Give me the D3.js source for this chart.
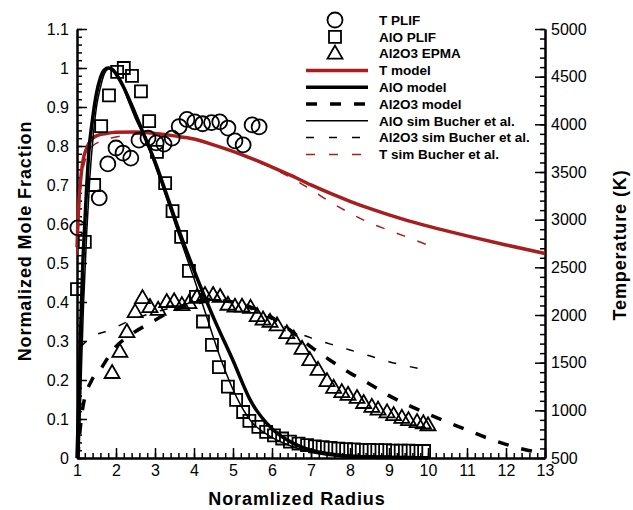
<!DOCTYPE html>
<html>
<head>
<meta charset="utf-8">
<script src="https://cdn.jsdelivr.net/npm/d3@7/dist/d3.min.js"></script>
<style>
  html, body { margin: 0; padding: 0; background: #fff; }
  svg { display: block; font-family: "Liberation Sans", Arial, Helvetica, sans-serif; }
  .tick text { font-size: 16px; fill: #000; }
</style>
</head>
<body>
<svg id="chart" width="633" height="510"></svg>
<script>
// ---- data ----
// T PLIF measurements: radius, temperature (K)
const tPlifR = [1.02, 1.57, 1.79, 2.0, 2.18, 2.38, 2.59, 2.82, 3.03, 3.23, 3.44, 3.62, 3.82, 4.02, 4.22, 4.45, 4.66, 4.87, 5.05, 5.26, 5.49, 5.67];
const tPlifK = [2914, 3229, 3585, 3752, 3699, 3646, 3834, 3855, 3805, 3793, 3855, 3977, 4051, 4026, 4006, 4018, 4026, 3961, 3826, 3785, 3994, 3973];

// AlO PLIF: radius, normalized mole fraction
const aloPlifR = [1.0, 1.2, 1.44, 1.62, 1.82, 2.03, 2.2, 2.41, 2.64, 2.85, 3.05, 3.26, 3.45, 3.67, 3.87, 4.05, 4.23, 4.46, 4.64, 4.87, 5.08, 5.26, 5.42, 5.65, 5.85, 6.05, 6.26, 6.46, 6.68, 6.9, 7.1, 7.3, 7.5, 7.7, 7.9, 8.1, 8.3, 8.5, 8.7, 8.9, 9.1, 9.3, 9.5, 9.7, 9.9];
const aloPlifY = [0.433, 0.554, 0.70, 0.851, 0.93, 0.99, 1.0, 0.98, 0.94, 0.864, 0.785, 0.705, 0.633, 0.567, 0.48, 0.413, 0.35, 0.29, 0.233, 0.183, 0.149, 0.118, 0.095, 0.08, 0.067, 0.058, 0.05, 0.042, 0.037, 0.033, 0.03, 0.028, 0.026, 0.024, 0.023, 0.022, 0.021, 0.021, 0.02, 0.02, 0.019, 0.019, 0.019, 0.018, 0.018];

// Al2O3 EPMA: radius, normalized mole fraction
const al2o3EpmaR = [1.9, 2.1, 2.28, 2.49, 2.68, 2.87, 3.08, 3.3, 3.49, 3.69, 3.87, 4.08, 4.28, 4.49, 4.67, 4.87, 5.05, 5.23, 5.45, 5.62, 5.77, 5.95, 6.13, 6.38, 6.56, 6.77, 6.97, 7.18, 7.41, 7.58, 7.79, 7.95, 8.18, 8.35, 8.56, 8.72, 8.95, 9.12, 9.33, 9.5, 9.72, 9.88, 10.0];
const al2o3EpmaY = [0.218, 0.272, 0.323, 0.374, 0.41, 0.387, 0.38, 0.4, 0.402, 0.392, 0.397, 0.413, 0.418, 0.418, 0.413, 0.393, 0.388, 0.388, 0.385, 0.364, 0.355, 0.349, 0.34, 0.32, 0.306, 0.28, 0.251, 0.226, 0.197, 0.18, 0.169, 0.162, 0.154, 0.141, 0.131, 0.124, 0.117, 0.11, 0.103, 0.097, 0.092, 0.089, 0.084];

// T model (K)
const tModelR = [1.0, 1.05, 1.1, 1.15, 1.25, 1.35, 1.5, 1.75, 2.0, 2.5, 3.0, 3.5, 4.0, 4.5, 5.0, 5.5, 6.0, 6.5, 7.0, 7.5, 8.0, 8.5, 9.0, 9.5, 10, 11, 12, 13];
const tModelK = [2709, 3200, 3445, 3609, 3752, 3834, 3879, 3904, 3916, 3920, 3904, 3879, 3846, 3785, 3716, 3638, 3552, 3462, 3364, 3275, 3193, 3118, 3050, 2988, 2932, 2830, 2735, 2645];

// AlO model
const aloModelR = [1.0, 1.03, 1.06, 1.1, 1.15, 1.2, 1.25, 1.3, 1.4, 1.5, 1.6, 1.7, 1.8, 1.9, 2.0, 2.2, 2.4, 2.74, 3.0, 3.3, 3.64, 4.1, 4.5, 5.0, 5.44, 6.0, 6.5, 7.0, 7.5, 8.0, 9.0, 10.0];
const aloModelY = [0.0, 0.1, 0.2, 0.35, 0.5, 0.6, 0.7, 0.78, 0.87, 0.935, 0.975, 0.995, 1.0, 0.997, 0.985, 0.95, 0.905, 0.823, 0.76, 0.675, 0.577, 0.456, 0.36, 0.25, 0.149, 0.075, 0.04, 0.02, 0.01, 0.004, 0.001, 0.0];

// Al2O3 model
const al2o3ModelR = [1.02, 1.08, 1.15, 1.38, 1.64, 1.92, 2.36, 2.87, 3.38, 3.72, 4.1, 4.5, 5.0, 5.5, 6.0, 6.5, 7.0, 7.5, 8.0, 8.5, 9.0, 9.5, 10.0, 10.5, 11.0, 11.5, 12.0, 12.5, 13.0];
const al2o3ModelY = [0.0, 0.072, 0.13, 0.2, 0.233, 0.277, 0.315, 0.346, 0.374, 0.387, 0.398, 0.403, 0.4, 0.385, 0.36, 0.325, 0.285, 0.25, 0.218, 0.19, 0.16, 0.135, 0.113, 0.092, 0.072, 0.052, 0.035, 0.021, 0.013];

// AlO sim, Bucher et al.
const aloSimR = [1.05, 1.08, 1.12, 1.17, 1.25, 1.33, 1.42, 1.5, 1.6, 1.7, 1.8, 1.87, 1.95, 2.1, 2.3, 2.5, 2.74, 3.0, 3.3, 3.6, 4.0, 4.3, 4.7, 5.2, 5.5, 5.8, 6.5, 7.0, 8.0, 10.0];
const aloSimY = [0.0, 0.1, 0.25, 0.4, 0.58, 0.72, 0.83, 0.9, 0.95, 0.985, 0.998, 1.0, 0.995, 0.97, 0.92, 0.87, 0.82, 0.75, 0.665, 0.575, 0.46, 0.37, 0.25, 0.135, 0.09, 0.065, 0.03, 0.015, 0.003, 0.0];

// Al2O3 sim, Bucher et al.
const al2o3SimR = [1.1, 1.33, 1.85, 2.28, 2.8, 3.3, 3.8, 4.5, 5.0, 5.5, 6.0, 6.5, 7.0, 7.5, 8.0, 8.5, 9.0, 9.5, 10.0];
const al2o3SimY = [0.285, 0.308, 0.328, 0.349, 0.368, 0.382, 0.395, 0.41, 0.4, 0.38, 0.355, 0.328, 0.308, 0.292, 0.277, 0.262, 0.247, 0.235, 0.225];

// T sim, Bucher et al. (K)
const tSimR = [1.0, 1.05, 1.1, 1.2, 1.35, 1.6, 2.0, 2.5, 3.0, 3.5, 4.0, 4.5, 5.0, 5.5, 6.0, 6.5, 7.0, 7.5, 8.0, 8.5, 9.0, 9.5, 10.0];
const tSimK = [2627, 3036, 3364, 3609, 3752, 3822, 3867, 3895, 3895, 3871, 3838, 3780, 3710, 3630, 3540, 3437, 3315, 3184, 3069, 2967, 2889, 2811, 2734];

// axis ticks
const xTicks = d3.range(1, 14, 1);
const xTickLabels = xTicks.map(String);
const yTicks = d3.range(0, 12).map(i => i / 10);
const yTickLabels = ["0", "0.1", "0.2", "0.3", "0.4", "0.5", "0.6", "0.7", "0.8", "0.9", "1", "1.1"];
const tTicks = d3.range(500, 5001, 500);
const tTickLabels = tTicks.map(String);

const legendLabels = ["T PLIF", "AlO PLIF", "Al2O3 EPMA", "T model", "AlO model", "Al2O3 model",
                      "AlO sim Bucher et al.", "Al2O3 sim Bucher et al.", "T sim Bucher et al."];

// ---- layout ----
const RED = "#a81e1e";
const svg = d3.select("#chart");
const plotLeft = 77, plotRight = 545, plotTop = 29, plotBottom = 458;

const x = d3.scaleLinear().domain([1, 13]).range([plotLeft, plotRight]);
const y = d3.scaleLinear().domain([0, 1.1]).range([plotBottom, plotTop]);
const yT = d3.scaleLinear().domain([500, 5000]).range([plotBottom, plotTop]);

// ---- axes (ticks point into the plot) ----
function styleAxis(g) {
  g.select(".domain").attr("stroke", "#000").attr("stroke-width", 2);
  g.selectAll(".tick line").attr("stroke", "#000").attr("stroke-width", 1.5);
}

// minor ticks
svg.append("g").attr("transform", `translate(0,${plotBottom})`)
  .call(d3.axisBottom(x).tickValues(d3.range(1, 13.001, 0.2)).tickSize(-5).tickSizeOuter(0).tickFormat(""))
  .call(styleAxis);
svg.append("g").attr("transform", `translate(${plotLeft},0)`)
  .call(d3.axisLeft(y).tickValues(d3.range(0, 1.1001, 0.02)).tickSize(-5).tickSizeOuter(0).tickFormat(""))
  .call(styleAxis);
svg.append("g").attr("transform", `translate(${plotRight},0)`)
  .call(d3.axisRight(yT).tickValues(d3.range(500, 5001, 100)).tickSize(-5).tickSizeOuter(0).tickFormat(""))
  .call(styleAxis);

// major ticks with labels
const xAxis = svg.append("g").attr("transform", `translate(0,${plotBottom})`)
  .call(d3.axisBottom(x).tickValues(xTicks).tickSize(-10).tickSizeOuter(0).tickPadding(6)
    .tickFormat((d, i) => xTickLabels[i]))
  .call(styleAxis);
xAxis.selectAll(".tick text").attr("dy", "0.75em");

svg.append("g").attr("transform", `translate(${plotLeft},0)`)
  .call(d3.axisLeft(y).tickValues(yTicks).tickSize(-10).tickSizeOuter(0).tickPadding(8)
    .tickFormat((d, i) => yTickLabels[i]))
  .call(styleAxis);

svg.append("g").attr("transform", `translate(${plotRight},0)`)
  .call(d3.axisRight(yT).tickValues(tTicks).tickSize(-10).tickSizeOuter(0).tickPadding(6)
    .tickFormat((d, i) => tTickLabels[i]))
  .call(styleAxis);

// axis titles
const titleStyle = t => t.attr("text-anchor", "middle").attr("font-size", 18)
  .attr("font-weight", "bold").attr("letter-spacing", "0.9px");
svg.append("text").attr("x", 297).attr("y", 505).call(titleStyle).text("Noramlized Radius");
svg.append("text").attr("transform", "translate(31,241) rotate(-90)").call(titleStyle)
  .text("Normalized Mole Fraction");
svg.append("text").attr("transform", "translate(626,245) rotate(-90)").call(titleStyle)
  .text("Temperature (K)");

// ---- curves ----
const plot = svg.append("g");
function curve(rs, vs, scale, stroke, width, dash) {
  const pts = rs.map((r, i) => [r, vs[i]]);
  const line = d3.line().x(d => x(d[0])).y(d => scale(d[1])).curve(d3.curveMonotoneX);
  plot.append("path").datum(pts).attr("d", line)
    .attr("fill", "none").attr("stroke", stroke).attr("stroke-width", width)
    .attr("stroke-dasharray", dash || null).attr("stroke-linejoin", "round");
}
curve(tSimR, tSimK, yT, RED, 1.5, "9,13");
curve(tModelR, tModelK, yT, RED, 3.5);
curve(al2o3SimR, al2o3SimY, y, "#000", 1.5, "8,14");
curve(al2o3ModelR, al2o3ModelY, y, "#000", 3.5, "11,13");
curve(aloSimR, aloSimY, y, "#000", 1.5);
curve(aloModelR, aloModelY, y, "#000", 3.5);

// ---- markers ----
const sym = {
  circle: (cx, cy) => `M${cx + 7.5},${cy}A7.5,7.5 0 1,1 ${cx - 7.5},${cy}A7.5,7.5 0 1,1 ${cx + 7.5},${cy}Z`,
  square: (cx, cy) => `M${cx - 6},${cy - 6}h12v12h-12Z`,
  triangle: (cx, cy) => `M${cx},${cy - 8}L${cx + 7.5},${cy + 5}L${cx - 7.5},${cy + 5}Z`
};
function markers(rs, vs, scale, shape) {
  plot.append("g").selectAll("path").data(rs.map((r, i) => [r, vs[i]])).join("path")
    .attr("d", d => sym[shape](x(d[0]), scale(d[1])))
    .attr("fill", "none").attr("stroke", "#000").attr("stroke-width", 1.8);
}
markers(tPlifR, tPlifK, yT, "circle");
markers(aloPlifR, aloPlifY, y, "square");
markers(al2o3EpmaR, al2o3EpmaY, y, "triangle");

// ---- legend ----
const lg = svg.append("g");
const lx0 = 306, lx1 = 368, mx = 335, tx = 379, ly0 = 20, dy = 16.8;
const legendStyles = [
  { marker: "circle" }, { marker: "square" }, { marker: "triangle" },
  { stroke: RED, width: 3.5 }, { stroke: "#000", width: 3.5 }, { stroke: "#000", width: 3.5, dash: "11,13" },
  { stroke: "#000", width: 1.5 }, { stroke: "#000", width: 1.5, dash: "8,15" }, { stroke: RED, width: 1.5, dash: "9,14" }
];
legendLabels.forEach((label, i) => {
  const cy = ly0 + i * dy;
  const s = legendStyles[i];
  if (s.marker) {
    lg.append("path").attr("d", sym[s.marker](mx, cy)).attr("fill", "none")
      .attr("stroke", "#000").attr("stroke-width", 1.8);
  } else {
    lg.append("line").attr("x1", lx0).attr("x2", lx1).attr("y1", cy).attr("y2", cy)
      .attr("stroke", s.stroke).attr("stroke-width", s.width).attr("stroke-dasharray", s.dash || null);
  }
  lg.append("text").attr("x", tx).attr("y", cy).attr("dy", "0.36em")
    .attr("font-size", 13.5).attr("font-weight", "bold").text(label);
});
</script>
</body>
</html>
